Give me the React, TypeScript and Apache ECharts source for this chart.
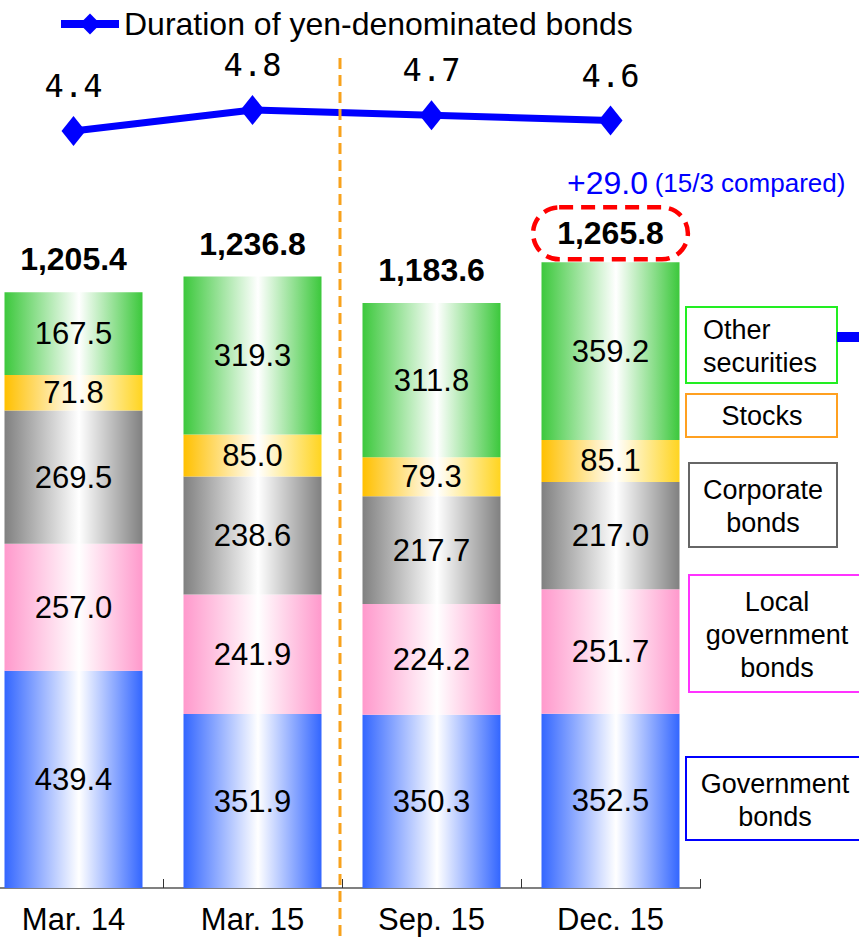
import React, { useEffect, useRef } from "react";
import * as echarts from "echarts";

const categories = ["Mar. 14", "Mar. 15", "Sep. 15", "Dec. 15"];
const governmentBonds = [439.4, 351.9, 350.3, 352.5];
const localGovernmentBonds = [257.0, 241.9, 224.2, 251.7];
const corporateBonds = [269.5, 238.6, 217.7, 217.0];
const stocks = [71.8, 85.0, 79.3, 85.1];
const otherSecurities = [167.5, 319.3, 311.8, 359.2];
const totals = [1205.4, 1236.8, 1183.6, 1265.8];
const duration = [4.4, 4.8, 4.7, 4.6];
const durationName = "Duration of yen-denominated bonds";
const changeValue = "+29.0";
const changeNote = "(15/3 compared)";

const FONT = "Liberation Sans, Arial, sans-serif";
const OFF = 16; // chart div starts 16px left of the page

const grad = (l: string, r: string) =>
  new echarts.graphic.LinearGradient(0, 0, 1, 0, [
    { offset: 0, color: l },
    { offset: 0.54, color: "#ffffff" },
    { offset: 1, color: r },
  ]);

const fmtTotal = (v: number) =>
  v.toLocaleString("en-US", { minimumFractionDigits: 1, maximumFractionDigits: 1 });

export default function App() {
  const ref = useRef<HTMLDivElement>(null);
  useEffect(() => {
    if (!ref.current) return;
    const chart = echarts.init(ref.current, null, { renderer: "svg" });

    const barLabel = {
      show: true,
      position: "inside",
      color: "#000",
      fontSize: 31,
      fontFamily: FONT,
      formatter: (p: any) => Number(p.value).toFixed(1),
    };
    const mkBar = (name: string, data: number[], l: string, r: string) => ({
      name,
      type: "bar",
      stack: "total",
      xAxisIndex: 0,
      yAxisIndex: 0,
      barWidth: 138,
      data,
      itemStyle: { color: grad(l, r) },
      label: barLabel,
    });

    const totalData = totals.map((t, i) =>
      i === totals.length - 1
        ? {
            value: 0,
            label: {
              borderColor: "#FF0000",
              borderWidth: 4.5,
              borderType: [14, 8],
              borderRadius: 28,
              padding: [8, 24, 8, 24],
              distance: 3,
            },
          }
        : { value: 0 }
    );

    const boxes = [
      { x: 686, y: 307, w: 151, h: 76, color: "#22EE22", lines: ["Other", "securities"], tx: 703, align: "left", ty: 346 },
      { x: 686, y: 394, w: 151, h: 43, color: "#FFA020", lines: ["Stocks"], tx: 762, align: "center", ty: 416 },
      { x: 689, y: 463, w: 148, h: 84, color: "#666666", lines: ["Corporate", "bonds"], tx: 763, align: "center", ty: 506 },
      { x: 689, y: 575, w: 178, h: 117, color: "#FF33FF", lines: ["Local", "government", "bonds"], tx: 777, align: "center", ty: 635 },
      { x: 686, y: 757, w: 180, h: 83, color: "#0000FF", lines: ["Government", "bonds"], tx: 775, align: "center", ty: 800 },
    ];

    const graphics: any[] = [];
    boxes.forEach((b) => {
      graphics.push({
        type: "rect",
        shape: { x: b.x + OFF, y: b.y, width: b.w, height: b.h },
        style: { fill: "#fff", stroke: b.color, lineWidth: 2 },
        z: 50,
      });
      graphics.push({
        type: "text",
        x: b.tx + OFF,
        y: b.ty,
        style: {
          text: b.lines.join("\n"),
          fill: "#000",
          fontSize: 27,
          fontFamily: FONT,
          lineHeight: 33,
          align: b.align,
          verticalAlign: "middle",
        },
        z: 51,
      });
    });
    graphics.push({
      type: "rect",
      shape: { x: 837 + OFF, y: 332, width: 30, height: 10 },
      style: { fill: "#0000FF" },
      z: 50,
    });
    graphics.push({
      type: "line",
      shape: { x1: 340 + OFF, y1: 58, x2: 340 + OFF, y2: 938 },
      style: { stroke: "#F8A21C", lineWidth: 3, lineDash: [11, 6] },
      z: 100,
    });
    graphics.push({
      type: "text",
      x: 567 + OFF,
      y: 183,
      style: {
        text: `{a|${changeValue}}  {b|${changeNote}}`,
        verticalAlign: "middle",
        rich: {
          a: { fontSize: 32, fontFamily: FONT, fill: "#0000FF", color: "#0000FF" },
          b: { fontSize: 26, fontFamily: FONT, fill: "#0000FF", color: "#0000FF" },
        },
      },
      z: 60,
    });

    chart.setOption({
      animation: false,
      backgroundColor: "#ffffff",
      legend: {
        data: [durationName],
        left: 52 + OFF,
        top: 3,
        itemWidth: 58,
        itemHeight: 26,
        itemGap: 6,
        lineStyle: { width: 8 },
        textStyle: { fontSize: 32, color: "#000", fontFamily: FONT },
      },
      grid: [
        { left: 0, right: 159, top: 97, bottom: 50 },
        { left: 0, right: 159, top: 99.5, height: 42 },
      ],
      xAxis: [
        {
          type: "category",
          gridIndex: 0,
          data: categories,
          axisLine: { lineStyle: { color: "#808080", width: 2 } },
          axisTick: { show: true, inside: true, length: 9, lineStyle: { color: "#333", width: 1 } },
          axisLabel: { fontSize: 31, color: "#000", fontFamily: FONT, margin: 16 },
        },
        { type: "category", gridIndex: 1, data: categories, show: false },
      ],
      yAxis: [
        { type: "value", gridIndex: 0, min: 0, max: 1600, show: false },
        { type: "value", gridIndex: 1, min: 4.2, max: 5.0, show: false },
      ],
      series: [
        mkBar("Government bonds", governmentBonds, "#3366FF", "#3366FF"),
        mkBar("Local government bonds", localGovernmentBonds, "#FF99CC", "#FF99CC"),
        mkBar("Corporate bonds", corporateBonds, "#808080", "#808080"),
        mkBar("Stocks", stocks, "#FFC000", "#FFD420"),
        mkBar("Other securities", otherSecurities, "#3CC83C", "#3CC83C"),
        {
          name: "Total",
          type: "bar",
          stack: "total",
          xAxisIndex: 0,
          yAxisIndex: 0,
          barWidth: 138,
          data: totalData,
          itemStyle: { color: "transparent" },
          label: {
            show: true,
            position: "top",
            distance: 15,
            color: "#000",
            fontSize: 32,
            fontWeight: "bold",
            fontFamily: FONT,
            lineHeight: 36,
            formatter: (p: any) => fmtTotal(totals[p.dataIndex]),
          },
        },
        {
          name: durationName,
          type: "line",
          xAxisIndex: 1,
          yAxisIndex: 1,
          data: duration,
          color: "#0000FF",
          lineStyle: { color: "#0000FF", width: 7 },
          itemStyle: { color: "#0000FF" },
          symbol: "diamond",
          symbolSize: [24, 30],
          label: {
            show: true,
            position: "top",
            distance: 14,
            color: "#000",
            fontSize: 32,
            fontFamily: "DejaVu Sans Mono, Liberation Mono, monospace",
            formatter: (p: any) => Number(p.value).toFixed(1),
          },
          z: 10,
        },
      ],
      graphic: graphics,
    });
    return () => chart.dispose();
  }, []);
  return (
    <div
      ref={ref}
      style={{ position: "absolute", left: -OFF, top: 0, width: 859 + OFF, height: 938 }}
    />
  );
}
